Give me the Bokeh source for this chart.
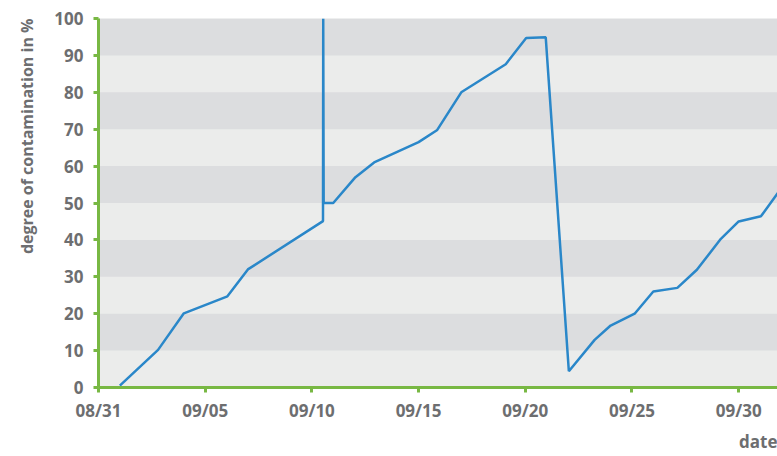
import pandas as pd
from bokeh.plotting import figure
from bokeh.models import (ColumnDataSource, FixedTicker, DatetimeTickFormatter,
                          BoxAnnotation, Range1d, Title)
from bokeh.embed import file_html
from bokeh.resources import INLINE

# ---- data ----
dates = [
    "2015-09-01 00:00", "2015-09-02 19:00", "2015-09-04 00:00", "2015-09-06 01:00",
    "2015-09-07 00:00", "2015-09-10 12:30", "2015-09-10 12:45", "2015-09-10 13:15",
    "2015-09-11 00:00", "2015-09-12 01:00", "2015-09-12 22:00", "2015-09-15 00:00",
    "2015-09-15 21:00", "2015-09-17 00:00", "2015-09-19 02:00", "2015-09-20 01:00",
    "2015-09-20 23:00", "2015-09-22 01:00", "2015-09-23 06:00", "2015-09-24 00:00",
    "2015-09-25 03:00", "2015-09-26 00:00", "2015-09-27 03:00", "2015-09-28 01:00",
    "2015-09-29 04:00", "2015-09-30 00:00", "2015-10-01 01:00", "2015-10-02 00:00",
]
contamination = [
    0.5, 10.2, 20.1, 24.7,
    32.0, 45.1, 100.0, 50.0,
    50.0, 57.0, 61.0, 66.5,
    69.8, 80.0, 87.6, 94.7,
    94.9, 4.4, 12.9, 16.8,
    20.0, 26.0, 27.0, 31.9,
    40.3, 45.0, 46.4, 54.0,
]
tick_dates = ["2015-08-31", "2015-09-05", "2015-09-10", "2015-09-15",
              "2015-09-20", "2015-09-25", "2015-09-30"]
y_ticks = [0, 10, 20, 30, 40, 50, 60, 70, 80, 90, 100]
x_start = "2015-08-31 00:00"
x_end = "2015-10-01 19:40"
x_title = "date"
y_title = "degree of contamination in %"

# ---- styles ----
TEXT = "#6d6e70"
GREEN = "#78b843"
BLUE = "#2a87c9"
DARK = "#dcdddf"
LIGHT = "#ebeceb"
FONT = "Open Sans"

src = ColumnDataSource(dict(date=pd.to_datetime(dates), value=contamination))

p = figure(width=777, height=456, x_axis_type="datetime",
           output_backend="svg", toolbar_location=None,
           x_range=Range1d(pd.Timestamp(x_start), pd.Timestamp(x_end)),
           y_range=Range1d(0, 100),
           min_border_left=98, min_border_top=18, min_border_right=0,
           min_border_bottom=69)

p.background_fill_color = LIGHT
p.border_fill_color = "white"
p.outline_line_color = None
p.xgrid.visible = False
p.ygrid.visible = False

for b in y_ticks[1:-1:2]:
    p.add_layout(BoxAnnotation(bottom=b, top=b + 10, fill_color=DARK, fill_alpha=1,
                               line_color=None, level="underlay"))

p.line("date", "value", source=src, line_color=BLUE, line_width=2.5)

tick_ms = [pd.Timestamp(d).value // 10**6 for d in tick_dates]
p.xaxis.ticker = FixedTicker(ticks=tick_ms)
p.xaxis.formatter = DatetimeTickFormatter(
    days="%m/%d", months="%m/%d", hours="%m/%d", minutes="%m/%d",
    seconds="%m/%d", milliseconds="%m/%d", years="%m/%d", minsec="%m/%d",
    hourmin="%m/%d")
p.yaxis.ticker = FixedTicker(ticks=y_ticks)

for ax in (p.xaxis[0], p.yaxis[0]):
    ax.axis_line_color = GREEN
    ax.axis_line_width = 3
    ax.major_tick_line_color = GREEN
    ax.major_tick_line_width = 3
    ax.major_tick_out = 5
    ax.major_tick_in = 0
    ax.minor_tick_line_color = None
    ax.major_label_text_font = FONT
    ax.major_label_text_font_style = "bold"
    ax.major_label_text_font_size = "17px"
    ax.major_label_text_color = TEXT

p.xaxis.major_label_standoff = 6
p.yaxis.major_label_standoff = 10

p.add_layout(Title(text=y_title, align="right", vertical_align="top",
                   text_font=FONT, text_font_style="bold", text_font_size="16px",
                   text_color=TEXT, standoff=24), "left")
p.add_layout(Title(text=x_title, align="right",
                   text_font=FONT, text_font_style="bold", text_font_size="17px",
                   text_color=TEXT, standoff=7), "below")

open("out.html", "w").write(file_html(p, INLINE))
